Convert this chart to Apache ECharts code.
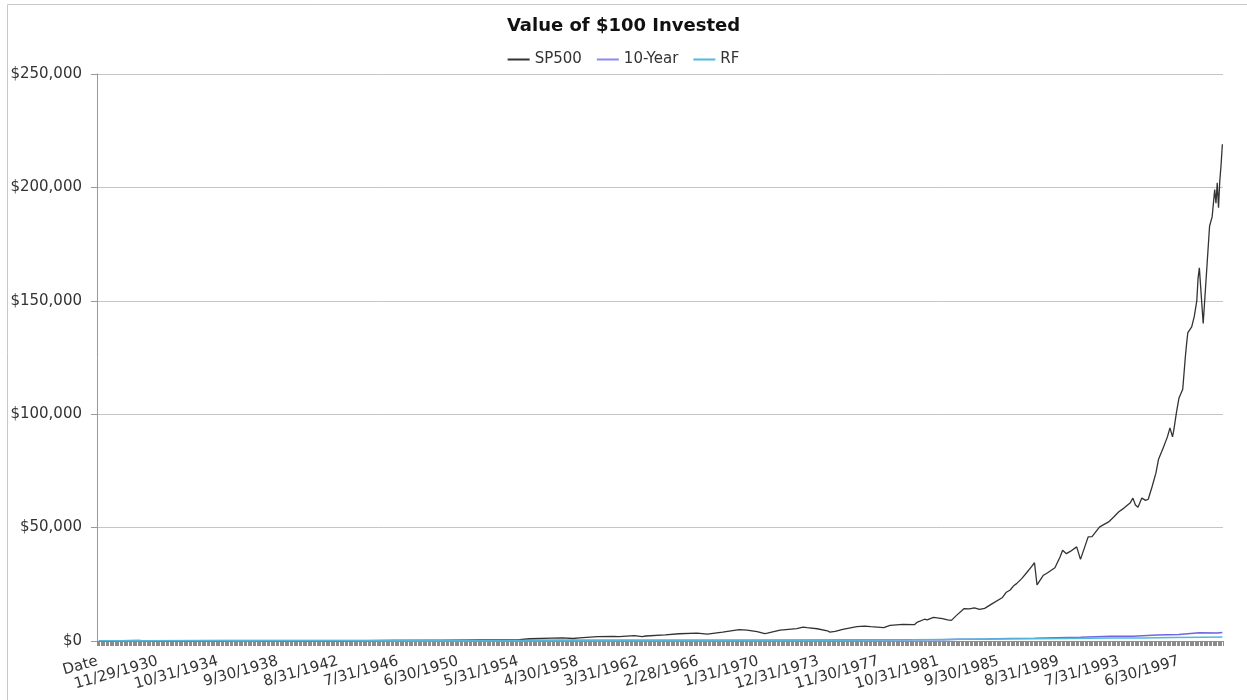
<!DOCTYPE html>
<html>
<head>
    <meta charset="utf-8">
    <title>Value of $100 Invested</title>
    <script src="https://cdn.jsdelivr.net/npm/echarts@6.0.0/dist/echarts.min.js"></script>
    <style>
        body { margin: 0; background: #fff; }
    </style>
</head>
<body>
    <div id="main" style="width: 1247px;height:700px;"></div>
    <script type="text/javascript">
// labels shown under the x axis (one every 47 months, first one is the header cell)
const xTickLabels = ['Date', '11/29/1930', '10/31/1934', '9/30/1938', '8/31/1942', '7/31/1946',
    '6/30/1950', '5/31/1954', '4/30/1958', '3/31/1962', '2/28/1966', '1/31/1970',
    '12/31/1973', '11/30/1977', '10/31/1981', '9/30/1985', '8/31/1989', '7/31/1993', '6/30/1997'];
const labelStep = 47;
const firstYear = 1927;
const monthCount = 880;   // Jan 1927 .. Apr 2000

// values, [month, value]
const sp500 = [
    ['1927-01', 100], ['1928-06', 140], ['1929-08', 225], ['1929-11', 165], ['1930-03', 190],
    ['1931-05', 120], ['1932-05', 42], ['1933-06', 95], ['1934-07', 85], ['1935-12', 150],
    ['1937-02', 200], ['1938-03', 105], ['1939-08', 130], ['1942-04', 100], ['1944-06', 170],
    ['1946-05', 290], ['1946-11', 240], ['1948-06', 270], ['1949-06', 260], ['1950-12', 390],
    ['1951-11', 450], ['1953-08', 520], ['1954-06', 650], ['1955-02', 1000], ['1956-07', 1300],
    ['1957-04', 1350], ['1957-12', 1100], ['1958-05', 1350], ['1959-07', 1900], ['1960-07', 2000],
    ['1960-12', 1900], ['1961-12', 2400], ['1962-06', 1950], ['1962-09', 2200], ['1963-12', 2700],
    ['1964-11', 3200], ['1966-01', 3500], ['1966-09', 3000], ['1967-09', 3900], ['1968-10', 5000],
    ['1969-04', 4800], ['1969-12', 4100], ['1970-06', 3300], ['1970-08', 3500], ['1971-06', 4800],
    ['1972-07', 5500], ['1972-12', 6100], ['1973-03', 5900], ['1973-11', 5400], ['1974-07', 4500],
    ['1974-09', 3900], ['1975-01', 4200], ['1975-07', 5100], ['1976-06', 6300], ['1976-12', 6600],
    ['1977-05', 6300], ['1978-03', 5900], ['1978-08', 6900], ['1979-06', 7300], ['1980-03', 7200],
    ['1980-05', 8200], ['1980-11', 9600], ['1981-01', 9300], ['1981-06', 10400], ['1982-01', 9900],
    ['1982-05', 9300], ['1982-08', 9100], ['1982-12', 11300], ['1983-06', 14300], ['1983-10', 14200],
    ['1984-02', 14600], ['1984-06', 13900], ['1984-10', 14400], ['1985-04', 16500], ['1985-12', 19200],
    ['1986-03', 21500], ['1986-06', 22500], ['1986-09', 24500], ['1986-11', 25300], ['1987-03', 27500],
    ['1987-07', 30200], ['1987-11', 33000], ['1988-01', 34500], ['1988-03', 24700], ['1988-08', 29000],
    ['1988-11', 30000], ['1989-05', 32300], ['1989-09', 37000], ['1989-11', 40000], ['1990-02', 38500],
    ['1990-05', 39500], ['1990-10', 41500], ['1991-01', 36000], ['1991-07', 45900], ['1991-10', 46000],
    ['1992-04', 50300], ['1992-11', 52500], ['1993-03', 54700], ['1993-07', 57000], ['1993-11', 58600],
    ['1994-04', 61000], ['1994-06', 63000], ['1994-08', 60000], ['1994-10', 59000], ['1995-01', 63000],
    ['1995-04', 62000], ['1995-06', 62500], ['1995-09', 68000], ['1995-12', 74000], ['1996-02', 80000],
    ['1996-06', 85500], ['1996-09', 90000], ['1996-11', 94000], ['1997-01', 90000], ['1997-02', 93000],
    ['1997-04', 100500], ['1997-06', 107000], ['1997-09', 111000], ['1997-11', 125000], ['1997-12', 131000],
    ['1998-01', 136000], ['1998-04', 138500], ['1998-06', 143000], ['1998-08', 150000], ['1998-09', 160000],
    ['1998-10', 164500], ['1999-01', 140000], ['1999-06', 183000], ['1999-08', 187000], ['1999-10', 199000],
    ['1999-11', 193000], ['1999-12', 202000], ['2000-01', 191000], ['2000-02', 203000], ['2000-03', 210000],
    ['2000-04', 219000]
];
const tenYear = [
    ['1927-01', 100], ['1930-01', 125], ['1935-01', 170], ['1940-01', 220], ['1945-01', 270],
    ['1950-01', 290], ['1955-01', 300], ['1960-01', 320], ['1965-01', 370], ['1970-01', 380],
    ['1975-01', 470], ['1980-01', 560], ['1982-01', 600], ['1983-01', 760], ['1985-01', 900],
    ['1986-06', 1150], ['1988-01', 1200], ['1989-06', 1450], ['1991-01', 1600], ['1993-01', 2100],
    ['1994-06', 2050], ['1996-01', 2600], ['1997-06', 2900], ['1998-10', 3600], ['1999-12', 3500],
    ['2000-04', 3800]
];
const rf = [
    ['1927-01', 100], ['1930-01', 112], ['1935-01', 119], ['1940-01', 120], ['1945-01', 124],
    ['1950-01', 133], ['1955-01', 149], ['1960-01', 175], ['1965-01', 215], ['1970-01', 287],
    ['1975-01', 385], ['1980-01', 535], ['1982-01', 700], ['1985-01', 860], ['1988-01', 1010],
    ['1990-01', 1130], ['1993-01', 1290], ['1995-01', 1370], ['1997-01', 1520], ['1999-01', 1660],
    ['2000-04', 1760]
];

// category axis: header cell, then one slot per month
var categories = ['Date'];
for (var i = 0; i < monthCount; i++) {
    var y = firstYear + Math.floor(i / 12);
    var m = i % 12 + 1;
    categories.push(y + '-' + (m < 10 ? '0' + m : m));
}

var font = 'DejaVu Sans, Verdana, sans-serif';
var myChart = echarts.init(document.getElementById('main'));

var option = {
    backgroundColor: '#fff',
    animation: false,
    title: {
        text: 'Value of $100 Invested',
        left: 'center',
        top: 12,
        textStyle: { fontFamily: font, fontSize: 18, fontWeight: 'bold', color: '#111' }
    },
    legend: {
        top: 47,
        left: 'center',
        icon: 'rect',
        itemWidth: 22,
        itemHeight: 2,
        itemGap: 15,
        textStyle: { fontFamily: font, fontSize: 15, color: '#333' },
        data: ['SP500', '10-Year', 'RF']
    },
    grid: { left: 97, right: 24, top: 74, bottom: 59 },
    xAxis: {
        type: 'category',
        boundaryGap: true,
        data: categories,
        axisLine: { lineStyle: { color: '#999' } },
        axisTick: { show: true, interval: 0, length: 5, lineStyle: { color: '#8c8c8c' } },
        axisLabel: {
            interval: function (index) { return index % labelStep === 0; },
            hideOverlap: false,
            rotate: 16,
            margin: 20,
            fontFamily: font,
            fontSize: 15,
            color: '#333',
            formatter: function (value, index) {
                return xTickLabels[index / labelStep] || '';
            }
        },
        splitLine: { show: false }
    },
    yAxis: {
        type: 'value',
        min: 0,
        max: 250000,
        interval: 50000,
        axisLine: { show: true, lineStyle: { color: '#999' } },
        axisTick: { show: true, length: 6, lineStyle: { color: '#999' } },
        axisLabel: {
            margin: 15,
            fontFamily: font,
            fontSize: 15,
            color: '#333',
            formatter: function (v) { return '$' + v.toLocaleString('en-US'); }
        },
        splitLine: { lineStyle: { color: '#c4c4c4' } }
    },
    series: [
        { name: 'SP500', type: 'line', data: sp500, symbol: 'none',
          lineStyle: { width: 1.3, color: '#333' }, itemStyle: { color: '#333' } },
        { name: '10-Year', type: 'line', data: tenYear, symbol: 'none',
          lineStyle: { width: 1.5, color: '#6f66e0' }, itemStyle: { color: '#8f88f0' } },
        { name: 'RF', type: 'line', data: rf, symbol: 'none',
          lineStyle: { width: 1.5, color: '#53b9dc' }, itemStyle: { color: '#53b9dc' } }
    ],
    graphic: [{
        type: 'rect',
        shape: { x: 7.5, y: 4.5, width: 1250, height: 720 },
        style: { fill: 'none', stroke: '#c8c8c8', lineWidth: 1 },
        silent: true
    }]
};

myChart.setOption(option);
    </script>
</body>
</html>
